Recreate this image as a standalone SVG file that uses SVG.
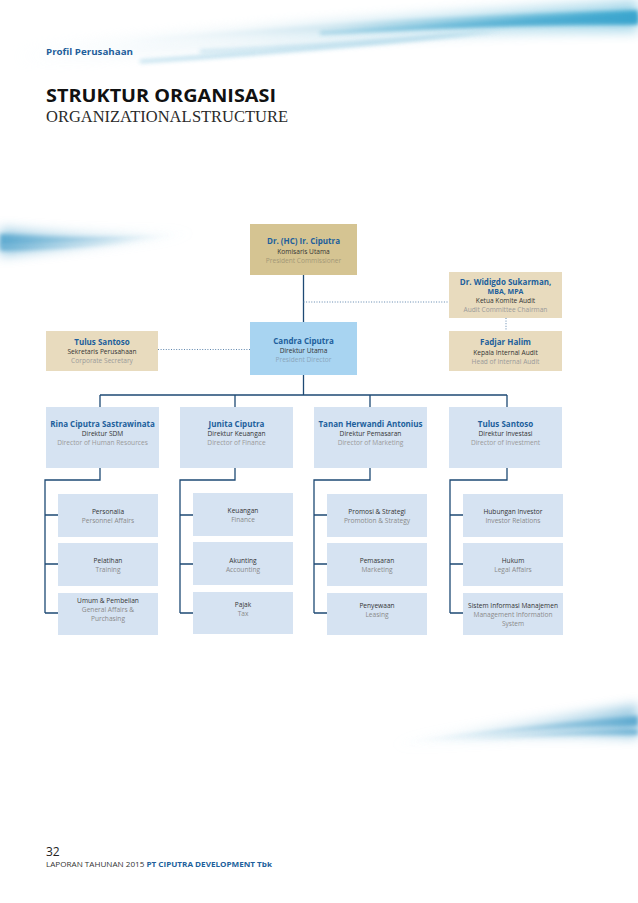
<svg xmlns="http://www.w3.org/2000/svg" width="638" height="903" viewBox="0 0 638 903">
<defs>
<style>
.nm{font-family:"Open Sans","Noto Sans",sans-serif;font-weight:bold;font-size:8px;fill:#215f9c;text-anchor:middle}
.rl{font-family:"Open Sans","Noto Sans",sans-serif;font-size:6.6px;fill:#333;text-anchor:middle}
.en{font-family:"Open Sans","Noto Sans",sans-serif;font-size:6.6px;fill:#9a9a9a;text-anchor:middle}
.sr{font-family:"Open Sans","Noto Sans",sans-serif;font-size:6.6px;fill:#333;text-anchor:middle}
.se{font-family:"Open Sans","Noto Sans",sans-serif;font-size:6.6px;fill:#8a8a8a;text-anchor:middle}
.ln{stroke:#1e4a74;stroke-width:1.3;fill:none}
.dt{stroke:#5f86ad;stroke-width:1;stroke-dasharray:1 1.6;fill:none}
.bx{fill:#d6e3f2}
</style>
<linearGradient id="gTop" x1="0" y1="0" x2="1" y2="0">
<stop offset="0" stop-color="#e8f3f8" stop-opacity="0"/>
<stop offset="0.4" stop-color="#d3e8f1"/>
<stop offset="1" stop-color="#3aa7cf"/>
</linearGradient>
<linearGradient id="gL" x1="0" y1="0" x2="1" y2="0">
<stop offset="0" stop-color="#5eaad0"/>
<stop offset="0.6" stop-color="#a9d1e5" stop-opacity="0.6"/>
<stop offset="1" stop-color="#d8ecf5" stop-opacity="0"/>
</linearGradient>
<linearGradient id="gR" x1="0" y1="0" x2="1" y2="0">
<stop offset="0" stop-color="#d8ecf5" stop-opacity="0"/>
<stop offset="0.4" stop-color="#a9d1e5" stop-opacity="0.6"/>
<stop offset="1" stop-color="#5eaad0"/>
</linearGradient>
<filter id="bl" x="-0.2" y="-2" width="1.4" height="5"><feGaussianBlur stdDeviation="2"/></filter>
<filter id="bl2" x="-0.2" y="-2" width="1.4" height="5"><feGaussianBlur stdDeviation="6"/></filter>
</defs>
<rect width="638" height="903" fill="#fff"/>

<!-- decorative swooshes -->
<g id="swoosh-top">
<path d="M0,45 C150,35 350,18 638,0 L638,32 C420,32 250,45 0,72 Z" fill="url(#gTop)" opacity="0.45" filter="url(#bl2)"/>
<path d="M120,40 C280,28 440,16 638,10 L638,24 C450,24 290,32 120,43 Z" fill="url(#gTop)" filter="url(#bl)"/>
<path d="M320,32 C420,26 520,18 638,14 L638,24 C530,24 430,29 320,34 Z" fill="#3aa3cc" opacity="0.6" filter="url(#bl)"/>
<path d="M140,60 C280,50 420,38 500,31 C420,42 280,54 140,63 Z" fill="#7fc0dc" opacity="0.55" filter="url(#bl)"/>
<path d="M200,50 C320,44 420,36 500,31 C420,40 320,47 200,53 Z" fill="#8cc6df" opacity="0.5" filter="url(#bl)"/>
</g>
<g id="swoosh-left">
<path d="M0,228 C70,234 140,236 205,232 C140,240 70,250 0,256 Z" fill="url(#gL)" opacity="0.6" filter="url(#bl2)"/>
<path d="M0,234 C70,238 130,238 195,233 C130,240 70,244 0,246 Z" fill="url(#gL)" filter="url(#bl)"/>
<path d="M0,244 C60,246 120,242 180,236 C120,244 60,250 0,251 Z" fill="url(#gL)" opacity="0.8" filter="url(#bl)"/>
</g>
<g id="swoosh-right">
<path d="M390,744 C470,730 560,716 638,704 L638,738 C560,734 470,738 390,747 Z" fill="url(#gR)" opacity="0.6" filter="url(#bl2)"/>
<path d="M400,742 C480,732 560,722 638,716 L638,726 C560,727 480,734 400,744 Z" fill="url(#gR)" filter="url(#bl)"/>
<path d="M430,740 C510,734 575,730 638,729 L638,735 C575,734 510,738 430,742 Z" fill="url(#gR)" opacity="0.8" filter="url(#bl)"/>
</g>

<!-- header -->
<g id="header">
<text x="46" y="55" font-family="'Open Sans','Noto Sans',sans-serif" font-weight="bold" font-size="9.5" fill="#1f5f9b" textLength="87" lengthAdjust="spacingAndGlyphs">Profil Perusahaan</text>
<text x="46" y="102" font-family="'Open Sans','Noto Sans',sans-serif" font-weight="bold" font-size="18" fill="#111" textLength="230" lengthAdjust="spacingAndGlyphs">STRUKTUR ORGANISASI</text>
<text x="46" y="122" font-family="'Liberation Serif',serif" font-size="16" fill="#2a2a2a" textLength="242" lengthAdjust="spacingAndGlyphs" word-spacing="-3">ORGANIZATIONAL STRUCTURE</text>
</g>

<!-- connectors -->
<g id="connectors">
<path class="ln" d="M303.5,275 V322 M303.5,375 V395 M100,395 H507 M100,395 V407 M235,395 V407 M370,395 V407 M507,395 V407"/>
<path class="dt" d="M303.5,302 H449 M506,318 V331 M158,349.5 H250"/>
<path class="ln" d="M100,468 V480 H45 V613 M45,515 H58 M45,564 H58 M45,613 H58"/>
<path class="ln" d="M235,468 V480 H180 V613 M180,515 H193 M180,564 H193 M180,613 H193"/>
<path class="ln" d="M370,468 V480 H314 V613 M314,515 H327 M314,564 H327 M314,613 H327"/>
<path class="ln" d="M507,468 V480 H450 V613 M450,515 H463 M450,564 H463 M450,613 H463"/>
</g>

<!-- top level -->
<g id="n-ciputra">
<rect x="250" y="224" width="107" height="51" fill="#d5c492"/>
<text class="nm" x="303.5" y="244">Dr. (HC) Ir. Ciputra</text>
<text class="rl" x="303.5" y="254">Komisaris Utama</text>
<text class="en" x="303.5" y="263" style="fill:#a39877">President Commissioner</text>
</g>
<g id="n-widigdo">
<rect x="449" y="272" width="113" height="46" fill="#e8dbbe"/>
<text class="nm" x="505.5" y="284.5">Dr. Widigdo Sukarman,</text>
<text class="nm" x="505.5" y="294" style="font-size:7px">MBA, MPA</text>
<text class="rl" x="505.5" y="303">Ketua Komite Audit</text>
<text class="en" x="505.5" y="312">Audit Committee Chairman</text>
</g>
<g id="n-fadjar">
<rect x="449" y="331" width="113" height="40" fill="#e8dbbe"/>
<text class="nm" x="505.5" y="345">Fadjar Halim</text>
<text class="rl" x="505.5" y="354.5">Kepala Internal Audit</text>
<text class="en" x="505.5" y="363.5">Head of Internal Audit</text>
</g>
<g id="n-candra">
<rect x="250" y="322" width="107" height="53" fill="#a8d4f1"/>
<text class="nm" x="303.5" y="344">Candra Ciputra</text>
<text class="rl" x="303.5" y="353">Direktur Utama</text>
<text class="en" x="303.5" y="362" style="fill:#8aa6bb">President Director</text>
</g>
<g id="n-tulus-sec">
<rect x="46" y="331" width="112" height="40" fill="#e8dbbe"/>
<text class="nm" x="102" y="344.5">Tulus Santoso</text>
<text class="rl" x="102" y="354">Sekretaris Perusahaan</text>
<text class="en" x="102" y="363">Corporate Secretary</text>
</g>

<!-- directors -->
<g id="n-rina">
<rect class="bx" x="46" y="407" width="113" height="61"/>
<text class="nm" x="102.5" y="427">Rina Ciputra Sastrawinata</text>
<text class="rl" x="102.5" y="436">Direktur SDM</text>
<text class="en" x="102.5" y="445">Director of Human Resources</text>
</g>
<g id="n-junita">
<rect class="bx" x="180" y="407" width="113" height="61"/>
<text class="nm" x="236.5" y="427">Junita Ciputra</text>
<text class="rl" x="236.5" y="436">Direktur Keuangan</text>
<text class="en" x="236.5" y="445">Director of Finance</text>
</g>
<g id="n-tanan">
<rect class="bx" x="314" y="407" width="113" height="61"/>
<text class="nm" x="370.5" y="427">Tanan Herwandi Antonius</text>
<text class="rl" x="370.5" y="436">Direktur Pemasaran</text>
<text class="en" x="370.5" y="445">Director of Marketing</text>
</g>
<g id="n-tulus-inv">
<rect class="bx" x="449" y="407" width="113" height="61"/>
<text class="nm" x="505.5" y="427">Tulus Santoso</text>
<text class="rl" x="505.5" y="436">Direktur Investasi</text>
<text class="en" x="505.5" y="445">Director of Investment</text>
</g>

<!-- column 1 -->
<g id="n-personalia">
<rect class="bx" x="58" y="494" width="100" height="43"/>
<text class="sr" x="108" y="514">Personalia</text>
<text class="se" x="108" y="523">Personnel Affairs</text>
</g>
<g id="n-pelatihan">
<rect class="bx" x="58" y="543" width="100" height="43"/>
<text class="sr" x="108" y="563">Pelatihan</text>
<text class="se" x="108" y="572">Training</text>
</g>
<g id="n-umum">
<rect class="bx" x="58" y="593" width="100" height="42"/>
<text class="sr" x="108" y="603">Umum &amp; Pembelian</text>
<text class="se" x="108" y="612">General Affairs &amp;</text>
<text class="se" x="108" y="621">Purchasing</text>
</g>

<!-- column 2 -->
<g id="n-keuangan">
<rect class="bx" x="193" y="493" width="100" height="43"/>
<text class="sr" x="243" y="513">Keuangan</text>
<text class="se" x="243" y="522">Finance</text>
</g>
<g id="n-akunting">
<rect class="bx" x="193" y="542" width="100" height="43"/>
<text class="sr" x="243" y="563">Akunting</text>
<text class="se" x="243" y="572">Accounting</text>
</g>
<g id="n-pajak">
<rect class="bx" x="193" y="592" width="100" height="42"/>
<text class="sr" x="243" y="607">Pajak</text>
<text class="se" x="243" y="616">Tax</text>
</g>

<!-- column 3 -->
<g id="n-promosi">
<rect class="bx" x="327" y="494" width="100" height="43"/>
<text class="sr" x="377" y="514">Promosi &amp; Strategi</text>
<text class="se" x="377" y="523">Promotion &amp; Strategy</text>
</g>
<g id="n-pemasaran">
<rect class="bx" x="327" y="543" width="100" height="43"/>
<text class="sr" x="377" y="563">Pemasaran</text>
<text class="se" x="377" y="572">Marketing</text>
</g>
<g id="n-penyewaan">
<rect class="bx" x="327" y="593" width="100" height="42"/>
<text class="sr" x="377" y="608">Penyewaan</text>
<text class="se" x="377" y="617">Leasing</text>
</g>

<!-- column 4 -->
<g id="n-hubungan">
<rect class="bx" x="463" y="494" width="100" height="43"/>
<text class="sr" x="513" y="514">Hubungan Investor</text>
<text class="se" x="513" y="523">Investor Relations</text>
</g>
<g id="n-hukum">
<rect class="bx" x="463" y="543" width="100" height="43"/>
<text class="sr" x="513" y="563">Hukum</text>
<text class="se" x="513" y="572">Legal Affairs</text>
</g>
<g id="n-sim">
<rect class="bx" x="463" y="593" width="100" height="42"/>
<text class="sr" x="513" y="608">Sistem Informasi Manajemen</text>
<text class="se" x="513" y="617">Management Information</text>
<text class="se" x="513" y="626">System</text>
</g>

<!-- footer -->
<g id="footer">
<text x="46" y="856" font-family="'Open Sans','Noto Sans',sans-serif" font-size="12" fill="#222">32</text>
<text x="46" y="867" font-family="'Open Sans','Noto Sans',sans-serif" font-size="7" fill="#333" textLength="226" lengthAdjust="spacingAndGlyphs">LAPORAN TAHUNAN 2015 <tspan font-weight="bold" fill="#215f9c">PT CIPUTRA DEVELOPMENT Tbk</tspan></text>
</g>
</svg>
